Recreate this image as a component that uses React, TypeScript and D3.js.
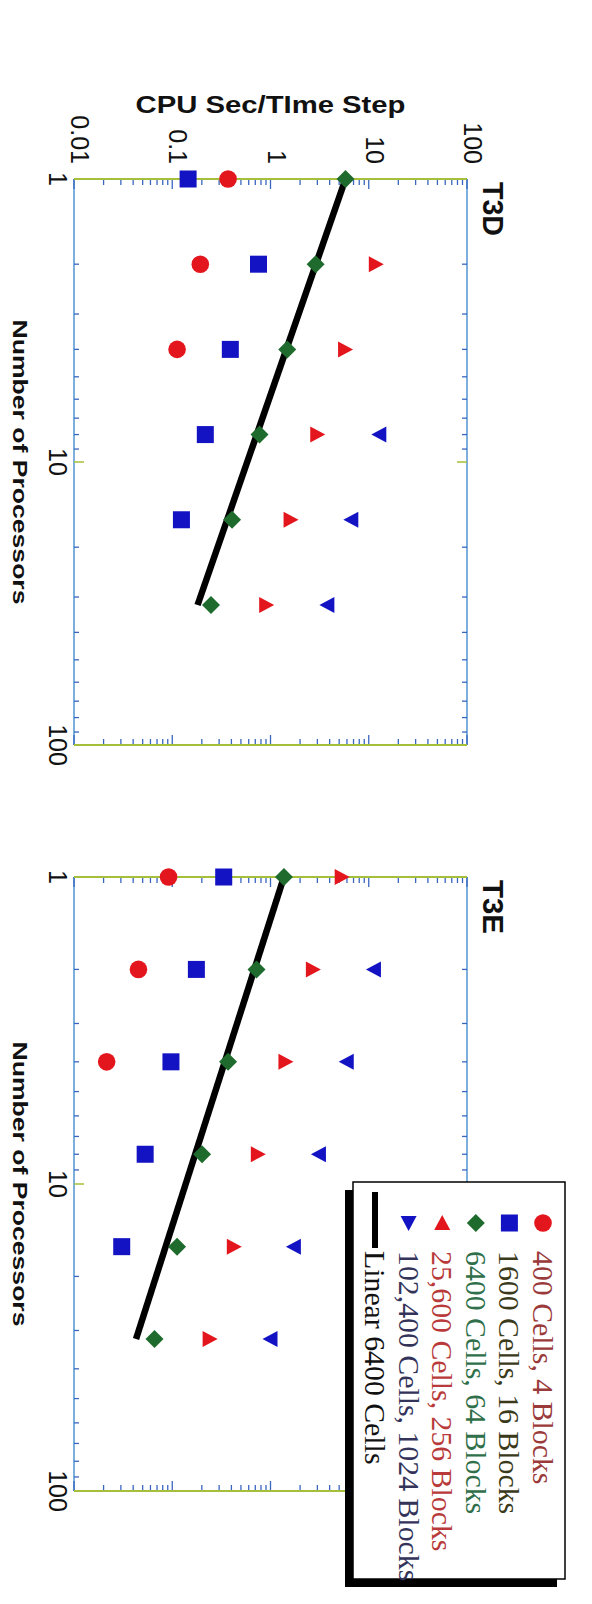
import React from 'react';
import * as d3 from 'd3';

// ---------- data ----------
const processors = [1, 2, 4, 8, 16, 32];
const seriesNames = [
  '400 Cells, 4 Blocks',
  '1600 Cells, 16 Blocks',
  '6400 Cells, 64 Blocks',
  '25,600 Cells, 256 Blocks',
  '102,400 Cells, 1024 Blocks',
];
const linearName = 'Linear 6400 Cells';

const t3d400 = [0.37, 0.193, 0.112, null, null, null];
const t3d1600 = [0.145, 0.755, 0.39, 0.217, 0.124, null];
const t3d6400 = [5.8, 2.88, 1.48, 0.773, 0.406, 0.248];
const t3d25600 = [null, 11.8, 5.74, 2.99, 1.6, 0.904];
const t3d102400 = [null, null, null, 12.8, 6.65, 3.79];

const t3e400 = [0.0917, 0.0453, 0.0215, null, null, null];
const t3e1600 = [0.334, 0.176, 0.097, 0.053, 0.0306, null];
const t3e6400 = [1.37, 0.72, 0.37, 0.201, 0.112, 0.066];
const t3e25600 = [5.3, 2.7, 1.42, 0.743, 0.423, 0.24];
const t3e102400 = [null, 11.3, 5.97, 3.11, 1.73, 1.0];

const linearProcs = [1, 32];
const t3dLinear = [5.8, 0.181];
const t3eLinear = [1.37, 0.0428];

const cpuTicks = [0.01, 0.1, 1, 10, 100];
const cpuTickLabels = ['0.01', '0.1', '1', '10', '100'];
const procTicks = [1, 10, 100];
const procTickLabels = ['1', '10', '100'];

// ---------- style ----------
const RED = '#e3161d';
const BLUE = '#1313c4';
const GREEN = '#1f6b2e';
const FRAME_BLUE = '#5b9bd5';
const FRAME_GREEN = '#a5bf3a';
const TICK_BLUE = '#3a66c0';
const SANS = '"Liberation Sans", Arial, Helvetica, sans-serif';
const SERIF = '"Liberation Serif", "Times New Roman", serif';

const markerKinds = ['circle', 'square', 'diamond', 'triRight', 'triLeft'];
const markerColors = [RED, BLUE, GREEN, RED, BLUE];
const legendKinds = ['circle', 'square', 'diamond', 'triUp', 'triDown'];
const legendTextColors = ['#9a3a3a', '#3a3a1a', '#2f6f4a', '#b83a3a', '#34345a', '#111111'];

function Marker({ kind, x, y, color }: { kind: string; x: number; y: number; color: string }) {
  const t = `translate(${x},${y})`;
  switch (kind) {
    case 'circle':
      return <circle cx={x} cy={y} r={8.8} fill={color} />;
    case 'square':
      return <rect x={x - 8.5} y={y - 8.5} width={17} height={17} fill={color} />;
    case 'diamond':
      return <path transform={t} d="M0,-9 L9,0 L0,9 L-9,0 Z" fill={color} />;
    case 'triRight':
      return <path transform={t} d="M8,0 L-7,-8 L-7,8 Z" fill={color} />;
    case 'triLeft':
      return <path transform={t} d="M-8,0 L7,-8 L7,8 Z" fill={color} />;
    case 'triUp':
      return <path transform={t} d="M0,-8 L8,7 L-8,7 Z" fill={color} />;
    case 'triDown':
      return <path transform={t} d="M0,8 L8,-7 L-8,-7 Z" fill={color} />;
    default:
      return null;
  }
}

const X0 = 74;
const X1 = 467;
const cpuScale = d3.scaleLog().domain([0.01, 100]).range([X0, X1]);

interface PanelDef {
  title: string;
  series: (number | null)[][];
  linear: number[];
  y0: number;
  y1: number;
  showCpuLabels: boolean;
}

const panels: PanelDef[] = [
  {
    title: 'T3D',
    series: [t3d400, t3d1600, t3d6400, t3d25600, t3d102400],
    linear: t3dLinear,
    y0: 179,
    y1: 745,
    showCpuLabels: true,
  },
  {
    title: 'T3E',
    series: [t3e400, t3e1600, t3e6400, t3e25600, t3e102400],
    linear: t3eLinear,
    y0: 877,
    y1: 1491,
    showCpuLabels: false,
  },
];

function Panel({ p }: { p: PanelDef }) {
  const procScale = d3.scaleLog().domain([1, 100]).range([p.y0, p.y1]);
  const cpuMinor = cpuScale.ticks().filter((v) => !cpuTicks.some((m) => Math.abs(m - v) / m < 1e-6));
  const procMinor = procScale.ticks().filter((v) => !procTicks.some((m) => Math.abs(m - v) / m < 1e-6));
  const line = d3
    .line<number>()
    .x((v) => cpuScale(v))
    .y((_, i) => procScale(linearProcs[i]));
  const midY = (p.y0 + p.y1) / 2;

  return (
    <g>
      {/* frame */}
      <line x1={X0} x2={X0} y1={p.y0} y2={p.y1} stroke={FRAME_BLUE} strokeWidth={1.6} />
      <line x1={X1} x2={X1} y1={p.y0} y2={p.y1} stroke={FRAME_BLUE} strokeWidth={1.6} />
      {/* cpu axis ticks (top & bottom edges) */}
      {cpuMinor.map((v, i) => (
        <g key={'cm' + i}>
          <line x1={cpuScale(v)} x2={cpuScale(v)} y1={p.y0} y2={p.y0 + 6} stroke={TICK_BLUE} strokeWidth={1.3} />
          <line x1={cpuScale(v)} x2={cpuScale(v)} y1={p.y1} y2={p.y1 - 6} stroke={TICK_BLUE} strokeWidth={1.3} />
        </g>
      ))}
      {cpuTicks.map((v, i) => (
        <g key={'cM' + i}>
          <line x1={cpuScale(v)} x2={cpuScale(v)} y1={p.y0} y2={p.y0 + 10} stroke={TICK_BLUE} strokeWidth={1.3} />
          <line x1={cpuScale(v)} x2={cpuScale(v)} y1={p.y1} y2={p.y1 - 10} stroke={TICK_BLUE} strokeWidth={1.3} />
        </g>
      ))}
      {/* processor axis ticks (left & right edges) */}
      {procMinor.map((v, i) => (
        <g key={'pm' + i}>
          <line x1={X0} x2={X0 + 5} y1={procScale(v)} y2={procScale(v)} stroke={TICK_BLUE} strokeWidth={1.3} />
          <line x1={X1} x2={X1 - 5} y1={procScale(v)} y2={procScale(v)} stroke={TICK_BLUE} strokeWidth={1.3} />
        </g>
      ))}
      {procTicks.slice(1, -1).map((v, i) => (
        <g key={'pM' + i}>
          <line x1={X0} x2={X0 + 10} y1={procScale(v)} y2={procScale(v)} stroke={FRAME_GREEN} strokeWidth={1.5} />
          <line x1={X1} x2={X1 - 10} y1={procScale(v)} y2={procScale(v)} stroke={FRAME_GREEN} strokeWidth={1.5} />
        </g>
      ))}
      <line x1={X0} x2={X1} y1={p.y0} y2={p.y0} stroke={FRAME_GREEN} strokeWidth={1.8} />
      <line x1={X0} x2={X1} y1={p.y1} y2={p.y1} stroke={FRAME_GREEN} strokeWidth={1.8} />

      {/* cpu tick labels */}
      {p.showCpuLabels &&
        cpuTicks.map((v, i) => (
          <text
            key={'cl' + i}
            transform={`translate(${cpuScale(v) - 3},${p.y0 - 15}) rotate(90)`}
            textAnchor="end"
            fontFamily={SANS}
            fontSize={25}
            fill="#111"
          >
            {cpuTickLabels[i]}
          </text>
        ))}
      {/* processor tick labels */}
      {procTicks.map((v, i) => (
        <text
          key={'pl' + i}
          transform={`translate(49,${procScale(v)}) rotate(90)`}
          textAnchor="middle"
          fontFamily={SANS}
          fontSize={25}
          fill="#111"
        >
          {procTickLabels[i]}
        </text>
      ))}
      {/* axis title */}
      <text
        transform={`translate(13,${midY}) rotate(90)`}
        textAnchor="middle"
        fontFamily={SANS}
        fontWeight="bold"
        fontSize={21}
        textLength={285}
        lengthAdjust="spacingAndGlyphs"
        fill="#111"
      >
        Number of Processors
      </text>
      {/* panel title */}
      <text
        transform={`translate(483,${p.y0 + 3}) rotate(90)`}
        textAnchor="start"
        fontFamily={SANS}
        fontWeight="bold"
        fontSize={30}
        textLength={54}
        lengthAdjust="spacingAndGlyphs"
        fill="#111"
      >
        {p.title}
      </text>

      {/* linear line */}
      <path d={line(p.linear) || ''} fill="none" stroke="#000" strokeWidth={6.5} />

      {/* markers */}
      {p.series.map((vals, si) =>
        vals.map((v, i) =>
          v == null ? null : (
            <Marker
              key={`m${si}-${i}`}
              kind={markerKinds[si]}
              x={cpuScale(v)}
              y={procScale(processors[i])}
              color={markerColors[si]}
            />
          )
        )
      )}
    </g>
  );
}

function Legend() {
  const bx0 = 353;
  const bx1 = 565;
  const by0 = 1182;
  const by1 = 1579;
  const rowScale = d3.scaleLinear().domain([0, 5]).range([543, 375]);
  const markerY = 1223;
  const textY = 1251;
  const labels = [...seriesNames, linearName];
  return (
    <g>
      <rect x={bx0 - 8} y={by0 + 8} width={bx1 - bx0} height={by1 - by0} fill="#000" />
      <rect x={bx0} y={by0} width={bx1 - bx0} height={by1 - by0} fill="#fff" stroke="#000" strokeWidth={1.5} />
      {labels.map((lab, i) => (
        <text
          key={'lt' + i}
          transform={`translate(${rowScale(i) - 10},${textY}) rotate(90)`}
          fontFamily={SERIF}
          fontSize={29.8}
          fill={legendTextColors[i]}
        >
          {lab}
        </text>
      ))}
      {legendKinds.map((k, i) => (
        <Marker key={'lm' + i} kind={k} x={rowScale(i)} y={markerY} color={markerColors[i]} />
      ))}
      <line x1={rowScale(5)} x2={rowScale(5)} y1={1192} y2={1248} stroke="#000" strokeWidth={6} />
    </g>
  );
}

export default function App() {
  return (
    <svg
      width={592}
      height={1604}
      viewBox="0 0 592 1604"
      style={{ position: 'absolute', left: 0, top: 0, background: '#fff' }}
    >
      <rect x={0} y={0} width={592} height={1604} fill="#fff" />
      <text
        x={(X0 + X1) / 2}
        y={113}
        textAnchor="middle"
        fontFamily={SANS}
        fontWeight="bold"
        fontSize={23}
        textLength={270}
        lengthAdjust="spacingAndGlyphs"
        fill="#111"
      >
        CPU Sec/TIme Step
      </text>
      {panels.map((p, i) => (
        <Panel key={i} p={p} />
      ))}
      <Legend />
    </svg>
  );
}
